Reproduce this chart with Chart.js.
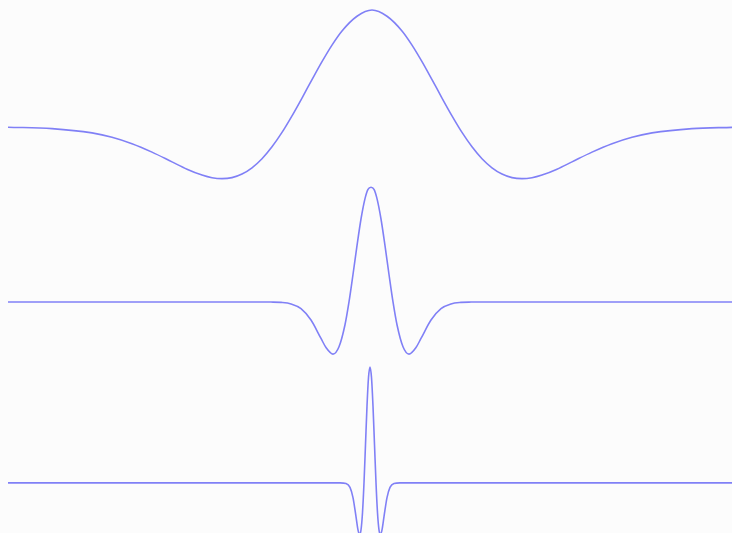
<!DOCTYPE html>
<html>
<head>
<meta charset="utf-8">
<script src="https://cdn.jsdelivr.net/npm/chart.js@4/dist/chart.umd.min.js"></script>
<style>
  html, body { margin: 0; padding: 0; background: #fcfcfc; }
  canvas { display: block; }
</style>
</head>
<body>
<canvas id="waveChart" width="732" height="533"></canvas>
<script>
// wide wavelet (top)
const xs1 = [-364, -320, -280, -260, -240, -220, -200, -185, -170, -160, -150, -140, -130, -120, -110, -100, -90, -80, -70, -60, -50, -40, -30, -15, 0,
             15, 30, 40, 50, 60, 70, 80, 90, 100, 110, 120, 130, 140, 150, 160, 170, 185, 200, 220, 240, 260, 280, 320, 360];
const ys1 = [-0.002, -0.014, -0.051, -0.088, -0.144, -0.217, -0.301, -0.364, -0.415, -0.438, -0.446, -0.437, -0.406, -0.352, -0.274, -0.171, -0.047, 0.096, 0.250, 0.409, 0.564, 0.707, 0.829, 0.956, 1.01,
             0.956, 0.829, 0.707, 0.564, 0.409, 0.250, 0.096, -0.047, -0.171, -0.274, -0.352, -0.406, -0.437, -0.446, -0.438, -0.415, -0.364, -0.301, -0.217, -0.144, -0.088, -0.051, -0.014, -0.003];

// medium wavelet (middle)
const xs2 = [-364, -121, -101, -91, -81, -71, -61, -51, -46, -39, -33, -27, -23, -19, -15, -11, -7, -4, -1,
             2, 5, 9, 13, 17, 21, 25, 31, 37, 44, 49, 59, 69, 79, 89, 99, 119, 360];
const ys2 = [0, 0, -0.001, -0.004, -0.017, -0.058, -0.156, -0.315, -0.393, -0.450, -0.387, -0.197, 0, 0.237, 0.486, 0.716, 0.892, 0.972, 0.99,
             0.972, 0.892, 0.716, 0.486, 0.237, 0, -0.197, -0.387, -0.450, -0.393, -0.315, -0.156, -0.058, -0.017, -0.004, -0.001, 0, 0];

// narrow wavelet (bottom)
const xs3 = [-364, -32, -26, -22, -19, -16, -14, -12.4, -11, -9.5, -8, -6.5, -5, -3.5, -2,
             -0.5, 1, 2.5, 4, 5.5, 7, 8.4, 10, 12, 15, 18, 22, 28, 360];
const ys3 = [0, 0, -0.005, -0.039, -0.127, -0.292, -0.406, -0.446, -0.406, -0.258, 0, 0.330, 0.662, 0.909, 1.0,
             0.909, 0.662, 0.330, 0, -0.258, -0.406, -0.446, -0.406, -0.292, -0.127, -0.039, -0.005, 0, 0];

const baselines = [3.504, 1.994, 0.433];

function toPoints(xs, ys, base) {
    return xs.map((x, i) => ({ x: x, y: ys[i] + base }));
}

const lineColor = 'rgb(128, 128, 246)';

const ctx = document.getElementById('waveChart').getContext('2d');

new Chart(ctx, {
    type: 'line',
    data: {
        datasets: [
            { data: toPoints(xs1, ys1, baselines[0]) },
            { data: toPoints(xs2, ys2, baselines[1]) },
            { data: toPoints(xs3, ys3, baselines[2]) }
        ].map(ds => Object.assign(ds, {
            borderColor: lineColor,
            borderWidth: 1.6,
            pointRadius: 0,
            fill: false,
            cubicInterpolationMode: 'monotone'
        }))
    },
    options: {
        responsive: false,
        animation: false,
        layout: { padding: 0 },
        plugins: {
            legend: { display: false },
            tooltip: { enabled: false }
        },
        scales: {
            x: { type: 'linear', min: -372, max: 360, display: false },
            y: { min: 0, max: 4.6, display: false }
        }
    }
});
</script>
</body>
</html>
